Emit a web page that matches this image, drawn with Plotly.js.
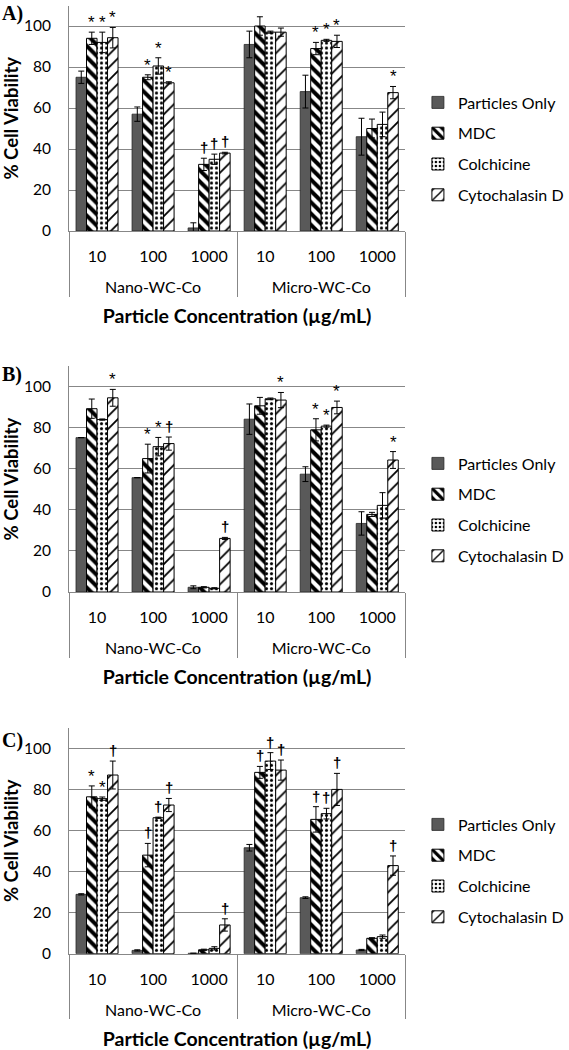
<!DOCTYPE html>
<html><head><meta charset="utf-8">
<script src="https://cdn.plot.ly/plotly-3.0.1.min.js"></script>
<style>html,body{margin:0;padding:0;background:#fff}#chart{width:569px;height:1050px}</style>
</head><body><div id="chart"></div>
<script>
// ---- categories ----
const groups = ['Nano-WC-Co','Nano-WC-Co','Nano-WC-Co','Micro-WC-Co','Micro-WC-Co','Micro-WC-Co'];
const concs = ['10','100','1000','10','100','1000'];
const seriesNames = ['Particles Only','MDC','Colchicine','Cytochalasin D'];
const panelLabels = ['A)','B)','C)'];

// ---- Panel A ----
const A_po = [75, 57, 1.5, 91, 68, 46];
const A_po_err = [3, 3.5, 2.5, 6.5, 8, 9];
const A_mdc = [94, 75, 32.5, 100, 89, 50];
const A_mdc_err = [3, 1.2, 3, 4.5, 3, 4.6];
const A_col = [92, 80.5, 35, 97, 93, 52];
const A_col_err = [5, 4, 2.5, 0.5, 0.5, 6];
const A_cyto = [94.3, 72.3, 38, 97, 92.5, 67.5];
const A_cyto_err = [5, 0.5, 0.4, 2, 3, 3];
const A_sig_po = ['', '', '', '', '', ''];
const A_sig_mdc = ['*', '*', '†', '', '*', ''];
const A_sig_col = ['*', '*', '†', '', '*', ''];
const A_sig_cyto = ['*', '*', '†', '', '*', '*'];

// ---- Panel B ----
const B_po = [75.2, 55.7, 2.3, 84.2, 57.4, 33.4];
const B_po_err = [0, 0, 0.7, 7.4, 3.6, 5.7];
const B_mdc = [89.3, 65, 2.3, 90.7, 79, 37.8];
const B_mdc_err = [4.7, 7, 0.3, 4.1, 5.4, 1];
const B_col = [84, 70.8, 1.8, 94.1, 80.8, 42.2];
const B_col_err = [0.3, 4.5, 0.3, 0.4, 0.5, 6.2];
const B_cyto = [94.6, 72.3, 26.1, 93.5, 89.9, 64.3];
const B_cyto_err = [4.1, 3.2, 0.5, 3.7, 3.1, 4.1];
const B_sig_po = ['', '', '', '', '', ''];
const B_sig_mdc = ['', '*', '', '', '*', ''];
const B_sig_col = ['', '*', '', '', '*', ''];
const B_sig_cyto = ['*', '†', '†', '*', '*', '*'];

// ---- Panel C ----
const C_po = [28.9, 1.6, 0.2, 51.6, 27.3, 1.8];
const C_po_err = [0.3, 0.3, 0, 1.6, 0.4, 0.3];
const C_mdc = [76.4, 48, 1.9, 88.3, 65.4, 7.5];
const C_mdc_err = [5.3, 5.7, 0.3, 2.9, 6.2, 0.3];
const C_col = [75.5, 66.2, 2.6, 93.8, 68.2, 8.3];
const C_col_err = [0.8, 0.3, 0.8, 4.1, 2.6, 0.8];
const C_cyto = [87, 72.4, 14, 89.4, 80, 42.9];
const C_cyto_err = [6.8, 3.2, 3, 4.9, 7.8, 4.7];
const C_sig_po = ['', '', '', '', '', ''];
const C_sig_mdc = ['*', '†', '', '†', '†', ''];
const C_sig_col = ['*', '†', '', '†', '†', ''];
const C_sig_cyto = ['†', '†', '†', '†', '†', '†'];

const panels = [
  {vals:[A_po,A_mdc,A_col,A_cyto], errs:[A_po_err,A_mdc_err,A_col_err,A_cyto_err], sig:[A_sig_po,A_sig_mdc,A_sig_col,A_sig_cyto]},
  {vals:[B_po,B_mdc,B_col,B_cyto], errs:[B_po_err,B_mdc_err,B_col_err,B_cyto_err], sig:[B_sig_po,B_sig_mdc,B_sig_col,B_sig_cyto]},
  {vals:[C_po,C_mdc,C_col,C_cyto], errs:[C_po_err,C_mdc_err,C_col_err,C_cyto_err], sig:[C_sig_po,C_sig_mdc,C_sig_col,C_sig_cyto]}
];

// ---- styling ----
const W = 569, H = 1050;
const FONT = 'Lato, "Open Sans", sans-serif';
const MARKFONT = '"Liberation Sans", Arial, sans-serif';
const GRID = '#878787';
const BARGAP = 0.25;
const markers = [
  {color:'#595959', line:{color:'#262626', width:0.8}},
  {color:'#ffffff', line:{color:'#000', width:1}, pattern:{shape:'\\', fgcolor:'#000', bgcolor:'#fff', size:8, solidity:0.5}},
  {color:'#ffffff', line:{color:'#000', width:1}, pattern:{shape:'.', fgcolor:'#000', bgcolor:'#fff', size:5, solidity:0.3}},
  {color:'#ffffff', line:{color:'#000', width:1}, pattern:{shape:'/', fgcolor:'#000', bgcolor:'#fff', size:9, solidity:0.2}}
];
// the second level of the multicategory axis sits one blank line lower, as in the original
const tickLines = concs.map(c => c + '<br>\u00a0');
// pixel positions of the value axis (top of axis, zero line) per panel
const panelPx = [[5.5, 231], [366.2, 592], [727.8, 953.7]];
const legendCenterPx = [149, 510, 871];
const labelPx = [13, 374, 740];
const xDom = [71 / W, 417 / W];

const traces = [];
const annotations = [];
const layout = {
  width: W, height: H,
  margin: {l:0, r:0, t:0, b:0},
  paper_bgcolor:'#fff', plot_bgcolor:'#fff',
  barmode:'group', bargap: BARGAP, bargroupgap: 0,
  font:{family: FONT, color:'#000', size:15},
  annotations: annotations
};

const barW = (1 - BARGAP) / 4;

panels.forEach((p, pi) => {
  const sfx = pi === 0 ? '' : String(pi + 1);
  const xa = 'x' + sfx, ya = 'y' + sfx;
  const lg = 'legend' + sfx;
  for (let s = 0; s < 4; s++) {
    traces.push({
      type:'bar', name: seriesNames[s],
      x:[groups, tickLines], y: p.vals[s],
      xaxis: xa, yaxis: ya, legend: lg, legendgroup: 'g' + pi + s,
      marker: markers[s],
      error_y:{type:'data', array: p.errs[s], visible:true, color:'#000', thickness:1, width:3},
      hoverinfo:'y+name'
    });
    p.sig[s].forEach((t, i) => {
      if (!t) return;
      const isStar = t === '*';
      annotations.push({
        xref: xa, yref: ya,
        x: i + (s - 1.5) * barW,
        y: p.vals[s][i] + p.errs[s][i],
        text: t, showarrow:false, yanchor:'bottom', yshift: isStar ? -2 : 0,
        font:{family: MARKFONT, size: isStar ? 17 : 15, color:'#000', weight: isStar ? 'normal' : 'bold'}
      });
    });
  }
  const [topPx, zeroPx] = panelPx[pi];
  layout['yaxis' + sfx] = {
    domain:[1 - zeroPx / H, 1 - topPx / H],
    anchor: xa, range:[0, 110], tick0:0, dtick:20,
    showgrid:true, gridcolor: GRID, gridwidth:1, zeroline:false,
    showline:true, linecolor: GRID, linewidth:1, ticks:'',
    ticklabelstandoff: 14,
    tickfont:{family: FONT, size:15.5, color:'#000'},
    title:{text:'% Cell Viability', standoff: 5, font:{family: FONT, size:18.5, color:'#000', weight:'bold'}},
    fixedrange:true
  };
  layout['xaxis' + sfx] = {
    domain: xDom, anchor: ya, type:'multicategory',
    showline:true, linecolor: GRID, linewidth:1, ticks:'',
    ticklabelstandoff: 11,
    showdividers:true, dividercolor: GRID, dividerwidth:1,
    tickfont:{family: FONT, size:16, color:'#000'},
    title:{text:'Particle Concentration (µg/mL)', standoff: 14, font:{family: FONT, size:19.5, color:'#000', weight:'bold'}},
    fixedrange:true
  };
  layout[lg] = {
    x: 430 / W, xanchor:'left',
    y: 1 - legendCenterPx[pi] / H, yanchor:'middle',
    traceorder:'grouped', tracegroupgap: 7,
    font:{family: FONT, size:16, color:'#000'},
    bgcolor:'rgba(0,0,0,0)', borderwidth:0, itemwidth:30
  };
  annotations.push({
    xref:'paper', yref:'paper', x: 0, xanchor:'left',
    y: 1 - labelPx[pi] / H, yanchor:'middle',
    text: panelLabels[pi], showarrow:false,
    font:{family:'"Liberation Serif", "Times New Roman", serif', size:20, color:'#000', weight:'bold'}
  });
});

Plotly.newPlot('chart', traces, layout, {displayModeBar:false, staticPlot:true});
</script>
</body></html>
